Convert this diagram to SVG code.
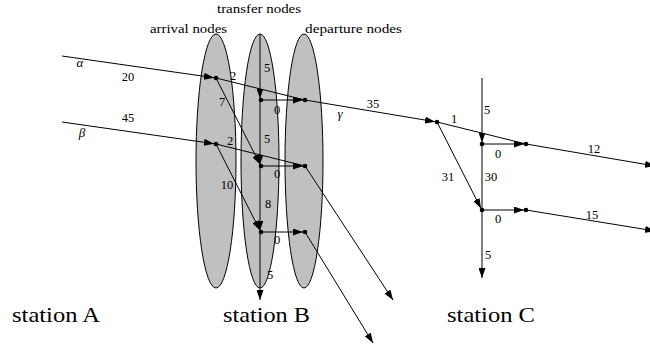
<svg xmlns="http://www.w3.org/2000/svg" width="650" height="345" viewBox="0 0 650 345">
<defs>
<marker id="ah" viewBox="0 0 10 7" refX="10" refY="3.5" markerWidth="10" markerHeight="7" markerUnits="userSpaceOnUse" orient="auto">
<path d="M0,0 L10,3.5 L0,7 z" fill="#000"/>
</marker>
</defs>
<style>
.ell{fill:#c0c0c0;stroke:#000;stroke-width:1}
.e{stroke:#000;stroke-width:1;fill:none}
.a{marker-end:url(#ah)}
.n{fill:#000}
.lb{font-size:12.5px;text-anchor:middle}
.gr{font-size:13px;font-style:italic;text-anchor:middle}
.st{font-size:22px}
.hd{font-size:11.5px}
</style>
<rect width="650" height="345" fill="#fff"/>
<g id="ellipses">
<ellipse id="arrival-ellipse" class="ell" cx="216" cy="161" rx="20" ry="127"/>
<ellipse id="transfer-ellipse" class="ell" cx="260" cy="161" rx="19" ry="127"/>
<ellipse id="departure-ellipse" class="ell" cx="304" cy="161" rx="19" ry="127"/>
</g>
<g id="connectors">
<line class="e a" x1="62" y1="56" x2="214" y2="77.7"/>
<line class="e a" x1="62" y1="122" x2="214" y2="143.7"/>
<line class="e" x1="216" y1="78" x2="305" y2="100"/>
<line class="e" x1="216" y1="144" x2="305" y2="166"/>
<line class="e a" x1="216" y1="78" x2="260" y2="164.5"/>
<line class="e a" x1="216" y1="144" x2="260" y2="230.5"/>
<line class="e a" x1="260" y1="34" x2="260" y2="98.5"/>
<line class="e a" x1="260" y1="100" x2="260" y2="164.5"/>
<line class="e a" x1="260" y1="166" x2="260" y2="230.5"/>
<line class="e a" x1="260" y1="232" x2="260" y2="300"/>
<line class="e a" x1="261" y1="100" x2="303" y2="100"/>
<line class="e a" x1="261" y1="166" x2="303" y2="166"/>
<line class="e a" x1="261" y1="232" x2="303" y2="232"/>
<line class="e a" x1="305" y1="100" x2="435" y2="121.7"/>
<line class="e a" x1="305" y1="166" x2="393" y2="300"/>
<line class="e a" x1="305" y1="232" x2="373" y2="343"/>
<line class="e" x1="437" y1="122" x2="526" y2="144"/>
<line class="e a" x1="437" y1="122" x2="481" y2="208.5"/>
<line class="e a" x1="482" y1="78" x2="482" y2="142.5"/>
<line class="e" x1="482" y1="144" x2="482" y2="210"/>
<line class="e a" x1="482" y1="210" x2="482" y2="278"/>
<line class="e a" x1="482" y1="144" x2="524" y2="144"/>
<line class="e a" x1="482" y1="210" x2="524" y2="210"/>
<line class="e a" x1="526" y1="144" x2="655" y2="166"/>
<line class="e a" x1="526" y1="210" x2="655" y2="231"/>
</g>
<g id="node-A1"><circle class="n" cx="216" cy="78" r="2.3"/></g>
<g id="node-A2"><circle class="n" cx="216" cy="144" r="2.3"/></g>
<g id="node-T1"><circle class="n" cx="261" cy="100" r="2.3"/></g>
<g id="node-T2"><circle class="n" cx="261" cy="166" r="2.3"/></g>
<g id="node-T3"><circle class="n" cx="261" cy="232" r="2.3"/></g>
<g id="node-D1"><circle class="n" cx="305" cy="100" r="2.3"/></g>
<g id="node-D2"><circle class="n" cx="305" cy="166" r="2.3"/></g>
<g id="node-D3"><circle class="n" cx="305" cy="232" r="2.3"/></g>
<g id="node-CA"><circle class="n" cx="437" cy="122" r="2.3"/></g>
<g id="node-CT1"><circle class="n" cx="482" cy="144" r="2.3"/></g>
<g id="node-CT2"><circle class="n" cx="482" cy="210" r="2.3"/></g>
<g id="node-CD1"><circle class="n" cx="526" cy="144" r="2.3"/></g>
<g id="node-CD2"><circle class="n" cx="526" cy="210" r="2.3"/></g>
<g id="labels" font-family="'Liberation Serif', 'DejaVu Serif', serif" fill="#000">
<text class="hd" x="217" y="13" textLength="84" lengthAdjust="spacingAndGlyphs">transfer nodes</text>
<text class="hd" x="150" y="33" textLength="77" lengthAdjust="spacingAndGlyphs">arrival nodes</text>
<text class="hd" x="305" y="33" textLength="97" lengthAdjust="spacingAndGlyphs">departure nodes</text>
<text class="lb" x="128" y="81">20</text>
<text class="gr" x="80" y="67">α</text>
<text class="lb" x="128" y="122">45</text>
<text class="gr" x="82" y="137">β</text>
<text class="lb" x="233" y="80">2</text>
<text class="lb" x="222" y="106">7</text>
<text class="lb" x="267" y="72">5</text>
<text class="lb" x="277" y="114">0</text>
<text class="gr" x="340" y="118">γ</text>
<text class="lb" x="373" y="108">35</text>
<text class="lb" x="230" y="145">2</text>
<text class="lb" x="267" y="143">5</text>
<text class="lb" x="277" y="178">0</text>
<text class="lb" x="227" y="189">10</text>
<text class="lb" x="268" y="208">8</text>
<text class="lb" x="277" y="244">0</text>
<text class="lb" x="270" y="279">5</text>
<text class="lb" x="454" y="123">1</text>
<text class="lb" x="487" y="114">5</text>
<text class="lb" x="498" y="158">0</text>
<text class="lb" x="594" y="153">12</text>
<text class="lb" x="448" y="181">31</text>
<text class="lb" x="491" y="181">30</text>
<text class="lb" x="498" y="223">0</text>
<text class="lb" x="592" y="219">15</text>
<text class="lb" x="488" y="259">5</text>
<text class="st" x="12" y="322" textLength="88" lengthAdjust="spacingAndGlyphs">station A</text>
<text class="st" x="223" y="322" textLength="87" lengthAdjust="spacingAndGlyphs">station B</text>
<text class="st" x="447" y="322" textLength="88" lengthAdjust="spacingAndGlyphs">station C</text>
</g>
</svg>
